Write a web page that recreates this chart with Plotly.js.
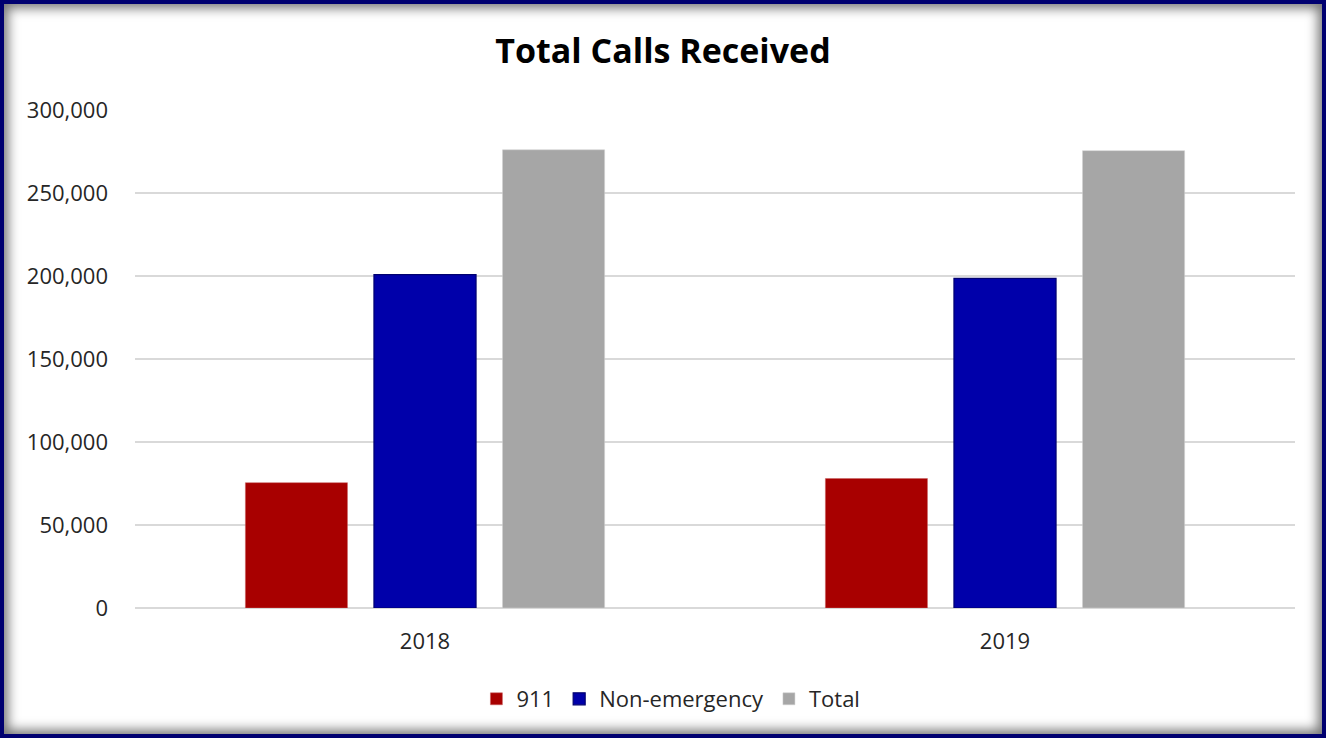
<!DOCTYPE html>
<html>
<head>
<meta charset="utf-8">
<script src="https://cdn.plot.ly/plotly-3.0.1.min.js"></script>
<style>
html,body{margin:0;padding:0;background:#fff;}
#frame{position:absolute;left:0;top:0;width:1326px;height:738px;box-sizing:border-box;border:4px solid #000070;box-shadow:inset 0 0 12px 4px rgba(0,0,0,0.55);background:#fff;}
#chart{position:absolute;left:0;top:0;width:1326px;height:738px;}
</style>
</head>
<body>
<div id="frame"></div>
<div id="chart"></div>
<script>
const years = ['2018', '2019'];
const calls911 = [75500, 78000];
const nonEmergency = [200800, 198600];
const totalCalls = [276000, 275500];
const seriesNames = ['911', 'Non-emergency', 'Total'];
const tickVals = [0, 50000, 100000, 150000, 200000, 250000, 300000];
const tickText = ['0', '50,000', '100,000', '150,000', '200,000', '250,000', '300,000'];

const font = '"Open Sans", Lato, sans-serif';
const traces = [
  {type:'bar', name:seriesNames[0], x:years, y:calls911, marker:{color:'#a80000', line:{color:'#c86060', width:0.5}}},
  {type:'bar', name:seriesNames[1], x:years, y:nonEmergency, marker:{color:'#0000aa', line:{color:'#000070', width:1.2}}},
  {type:'bar', name:seriesNames[2], x:years, y:totalCalls, marker:{color:'#a6a6a6', line:{color:'#d0d0d0', width:0.5}}}
];
const layout = {
  width:1326, height:738,
  paper_bgcolor:'rgba(0,0,0,0)', plot_bgcolor:'rgba(0,0,0,0)',
  margin:{l:135, r:31, t:110, b:130},
  barmode:'group', bargap:0.335, bargroupgap:0.206,
  title:{text:'<b>Total Calls Received</b>', font:{family:font, size:34, color:'#000'}, x:0.5, xanchor:'center', y:1-51/738, yanchor:'middle', yref:'container'},
  xaxis:{type:'category', tickfont:{family:font, size:22, color:'#262626'}, showgrid:false, showline:false, ticks:'', ticklabelstandoff:18},
  yaxis:{range:[0,300000], tickvals:tickVals, ticktext:tickText, tickfont:{family:font, size:22, color:'#262626'}, gridcolor:'#d9d9d9', gridwidth:2, zeroline:true, zerolinecolor:'#d9d9d9', zerolinewidth:2, showline:false, ticks:'', ticklabelstandoff:26},
  showlegend:true,
  legend:{orientation:'h', x:0.462, xanchor:'center', y:(608-699)/498, yanchor:'middle', font:{family:font, size:22, color:'#262626'}, itemwidth:30, traceorder:'normal'}
};
Plotly.newPlot('chart', traces, layout, {displayModeBar:false, staticPlot:true});
</script>
</body>
</html>
